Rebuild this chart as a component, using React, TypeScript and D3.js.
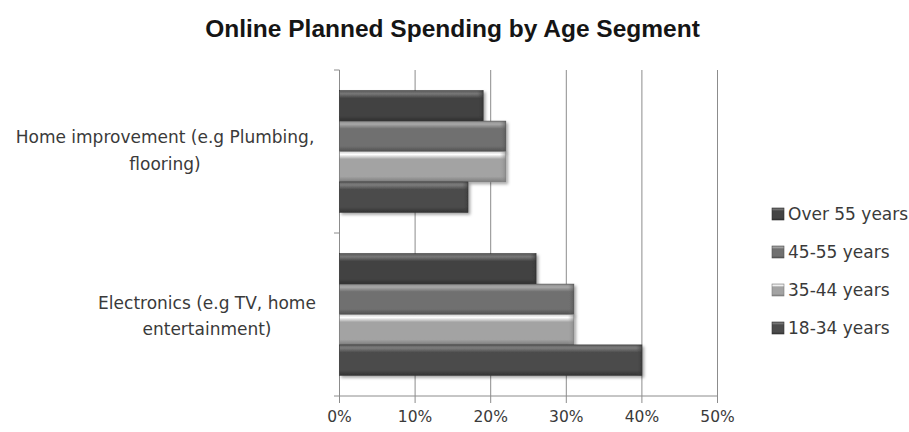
import React from "react";
import * as d3 from "d3";

const categories = ["Home improvement (e.g Plumbing,|flooring)", "Electronics (e.g TV, home|entertainment)"];
const seriesNames = ["Over 55 years", "45-55 years", "35-44 years", "18-34 years"];
const over55 = [0.19, 0.26];
const age45_55 = [0.22, 0.31];
const age35_44 = [0.22, 0.31];
const age18_34 = [0.17, 0.40];
const xTicks = [0, 0.1, 0.2, 0.3, 0.4, 0.5];
const title = "Online Planned Spending by Age Segment";

const seriesValues = [over55, age45_55, age35_44, age18_34];

const W = 909;
const H = 432;

// [edge, highlight, base, dark]
const palette = [
  ["#5a5a5a", "#777777", "#434343", "#2e2e2e"],
  ["#8a8a8a", "#a8a8a8", "#707070", "#505050"],
  ["#d0d0d0", "#ffffff", "#a3a3a3", "#7c7c7c"],
  ["#606060", "#7c7c7c", "#4c4c4c", "#333333"],
];

const labelCenters = [165, 207];
const labelShift = [0, 2.5];

export default function App() {
  const x = d3.scaleLinear().domain([0, 0.5]).range([339.5, 717.5]);
  const y = d3.scaleBand().domain(categories).range([70, 396]).padding(0);
  const ys = d3
    .scaleBand()
    .domain(seriesNames)
    .range([0, y.bandwidth()])
    .paddingInner(0)
    .paddingOuter(0.68);
  const bh = ys.bandwidth();

  return (
    <svg
      width={W}
      height={H}
      style={{ position: "absolute", left: 0, top: 0, background: "#fff" }}
    >
      <defs>
        {palette.map((p, i) => (
          <linearGradient key={i} id={`g${i}`} x1="0" y1="0" x2="0" y2="1">
            <stop offset="0" stopColor={p[0]} />
            <stop offset="0.1" stopColor={p[1]} />
            <stop offset="0.25" stopColor={p[2]} />
            <stop offset="0.82" stopColor={p[2]} />
            <stop offset="1" stopColor={p[3]} />
          </linearGradient>
        ))}
        {palette.map((p, i) => (
          <linearGradient key={i} id={`e${i}`} x1="0" y1="0" x2="1" y2="0">
            <stop offset="0" stopColor={p[2]} stopOpacity="0" />
            <stop offset="1" stopColor={p[3]} />
          </linearGradient>
        ))}
        <filter id="sh" x="-5%" y="-20%" width="115%" height="160%">
          <feDropShadow dx="2" dy="2" stdDeviation="1.5" floodColor="#000" floodOpacity="0.35" />
        </filter>
      </defs>

      <text
        x={452.5}
        y={37}
        textAnchor="middle"
        fontFamily="Liberation Sans, Arial, sans-serif"
        fontWeight="bold"
        fontSize={24.5}
        fill="#151515"
      >
        {title}
      </text>

      {/* gridlines */}
      {xTicks.map((t) => (
        <line
          key={t}
          x1={x(t)}
          x2={x(t)}
          y1={70}
          y2={403}
          stroke="#8c8c8c"
          strokeWidth={1}
        />
      ))}
      <line x1={339.5} x2={717.5} y1={396} y2={396} stroke="#8c8c8c" />
      <line x1={334} x2={339.5} y1={233} y2={233} stroke="#8c8c8c" />
      <line x1={334} x2={339.5} y1={70} y2={70} stroke="#8c8c8c" />
      <line x1={334} x2={339.5} y1={396} y2={396} stroke="#8c8c8c" />

      {/* bars */}
      {categories.map((c, ci) =>
        seriesNames.map((s, si) => {
          const v = seriesValues[si][ci];
          const yy = (y(c) as number) + (ys(s) as number);
          const w = x(v) - x(0);
          return (
            <g key={`${ci}-${si}`} filter="url(#sh)">
              <rect x={x(0)} y={yy} width={w} height={bh} fill={`url(#g${si})`} />
              <rect x={x(v) - 6} y={yy} width={6} height={bh} fill={`url(#e${si})`} opacity={0.6} />
              <rect x={x(0)} y={yy} width={w} height={bh} fill="none" stroke={palette[si][3]} strokeWidth={0.6} />
            </g>
          );
        })
      )}

      {/* category labels */}
      {categories.map((c, ci) => {
        const lines = c.split("|");
        const cy = (y(c) as number) + y.bandwidth() / 2;
        return (
          <text
            key={c}
            fontFamily="DejaVu Sans, sans-serif"
            fontSize={17}
            fill="#3a3a3a"
            textAnchor="middle"
          >
            {lines.map((l, i) => (
              <tspan key={i} x={labelCenters[ci]} y={cy - 8.5 + labelShift[ci] + i * 26.5}>
                {l}
              </tspan>
            ))}
          </text>
        );
      })}

      {/* tick labels */}
      {xTicks.map((t) => (
        <text
          key={t}
          x={x(t)}
          y={421.5}
          textAnchor="middle"
          fontFamily="DejaVu Sans, sans-serif"
          fontSize={15.5}
          fill="#3a3a3a"
        >
          {d3.format(".0%")(t)}
        </text>
      ))}

      {/* legend */}
      {seriesNames.map((s, i) => {
        const ly = 214 + i * 38;
        return (
          <g key={s}>
            <rect x={772} y={ly - 6} width={12} height={12} fill={`url(#g${i})`} stroke={palette[i][3]} strokeWidth={0.6} />
            <text
              x={788}
              y={ly + 6}
              fontFamily="DejaVu Sans, sans-serif"
              fontSize={17}
              fill="#3a3a3a"
            >
              {s}
            </text>
          </g>
        );
      })}
    </svg>
  );
}
